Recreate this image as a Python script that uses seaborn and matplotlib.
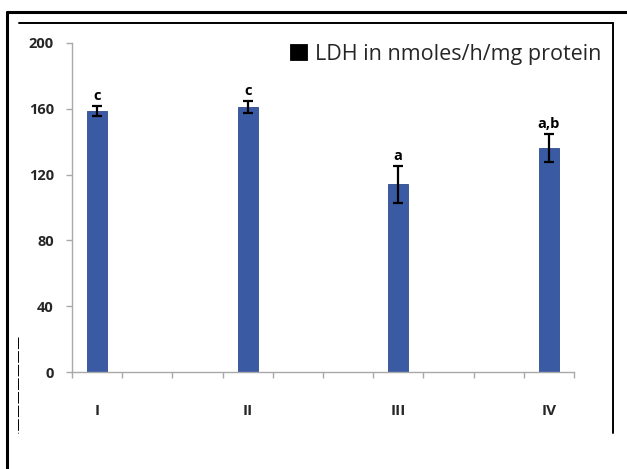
import matplotlib
matplotlib.use("Agg")
import matplotlib.pyplot as plt
from matplotlib.lines import Line2D
import seaborn as sns
import pandas as pd

# Group means and their errors
groups = ["I", "II", "III", "IV"]
ldh = [158.5, 161.0, 114.0, 136.0]
ldh_err = [3.0, 3.5, 11.0, 8.5]
sig_letters = ["c", "c", "a", "a,b"]
series_label = "LDH in nmoles/h/mg protein"
y_ticks = [0, 40, 80, 120, 160, 200]

BAR = "#3a5aa4"
AXIS_GREY = "#a9a9a9"

sns.set_theme(style="white")
plt.rcParams["font.family"] = ["Open Sans", "DejaVu Sans"]

W, H = 627, 469
fig = plt.figure(figsize=(W / 100, H / 100), dpi=100)
ax = fig.add_axes([72 / W, 1 - 372 / H, (574 - 72) / W, (372 - 43) / H])

# Category axis with two empty slots between each group
order = []
for i, g in enumerate(groups):
    order.append(g)
    if i < len(groups) - 1:
        order += [" " * (2 * i + 1), " " * (2 * i + 2)]

df = pd.DataFrame({"group": groups, "ldh": ldh})
sns.barplot(data=df, x="group", y="ldh", order=order, color=BAR,
            saturation=1, width=0.4, errorbar=None, ax=ax,
            edgecolor="#2f4c8e", linewidth=0.6)

bars = [p for p in ax.patches if p.get_height() > 0]
xs = [p.get_x() + p.get_width() / 2 for p in bars]
ax.errorbar(xs, ldh, yerr=ldh_err, fmt="none", ecolor="black",
            elinewidth=1.6, capsize=3.5, capthick=1.6, zorder=5)

for x, v, e, s in zip(xs, ldh, ldh_err, sig_letters):
    ax.annotate(s, (x, v + e), xytext=(0, 2.5), textcoords="offset points",
                ha="center", va="bottom", fontsize=10.5, fontweight="bold",
                color="black")

ax.set_ylim(0, 200)
ax.set_xlim(-0.5, len(order) - 0.5)
ax.set_yticks(y_ticks)
ax.set_yticklabels([str(t) for t in y_ticks], fontsize=10.5,
                   fontweight="bold")
ax.set_xticks([i - 0.5 for i in range(len(order) + 1)])
ax.set_xticklabels([])
ax.set_xticks([order.index(g) for g in groups], minor=True)
ax.set_xticklabels(groups, minor=True, fontsize=11, fontweight="bold")
ax.tick_params(axis="x", which="major", direction="out", length=4,
               width=1, color=AXIS_GREY, bottom=True)
ax.tick_params(axis="x", which="minor", length=0, pad=23)
ax.tick_params(axis="y", direction="out", length=4, width=1,
               color=AXIS_GREY, pad=9, left=True)
ax.set_xlabel("")
ax.set_ylabel("")
for side in ["top", "right"]:
    ax.spines[side].set_visible(False)
for side in ["left", "bottom"]:
    ax.spines[side].set_color(AXIS_GREY)
    ax.spines[side].set_linewidth(1)

leg = ax.legend([bars[0]], [series_label], loc="upper right",
                bbox_to_anchor=(610 / W, 1 - 35 / H),
                bbox_transform=fig.transFigure, frameon=False,
                handlelength=0.8, handleheight=0.8, handletextpad=0.35,
                borderaxespad=0,
                prop={"family": ["Open Sans"], "size": 15.5,
                      "weight": "medium"})
leg.legend_handles[0].set_color("black")

# Page frame lines around the chart
def px_line(x0, y0, x1, y1, **kw):
    fig.add_artist(Line2D([x0 / W, x1 / W], [1 - y0 / H, 1 - y1 / H],
                          transform=fig.transFigure, color="black", **kw))

px_line(7, 12, W, 12, lw=2.2)
px_line(7, 12, 7, H, lw=2.2)
px_line(19, 23, 613, 23, lw=1.4)
px_line(613, 23, 613, 433, lw=1.4)
px_line(18, 337, 18, 433, lw=0.7, ls=(0, (12, 2)))

fig.savefig("out.png", dpi=100, facecolor="white")
